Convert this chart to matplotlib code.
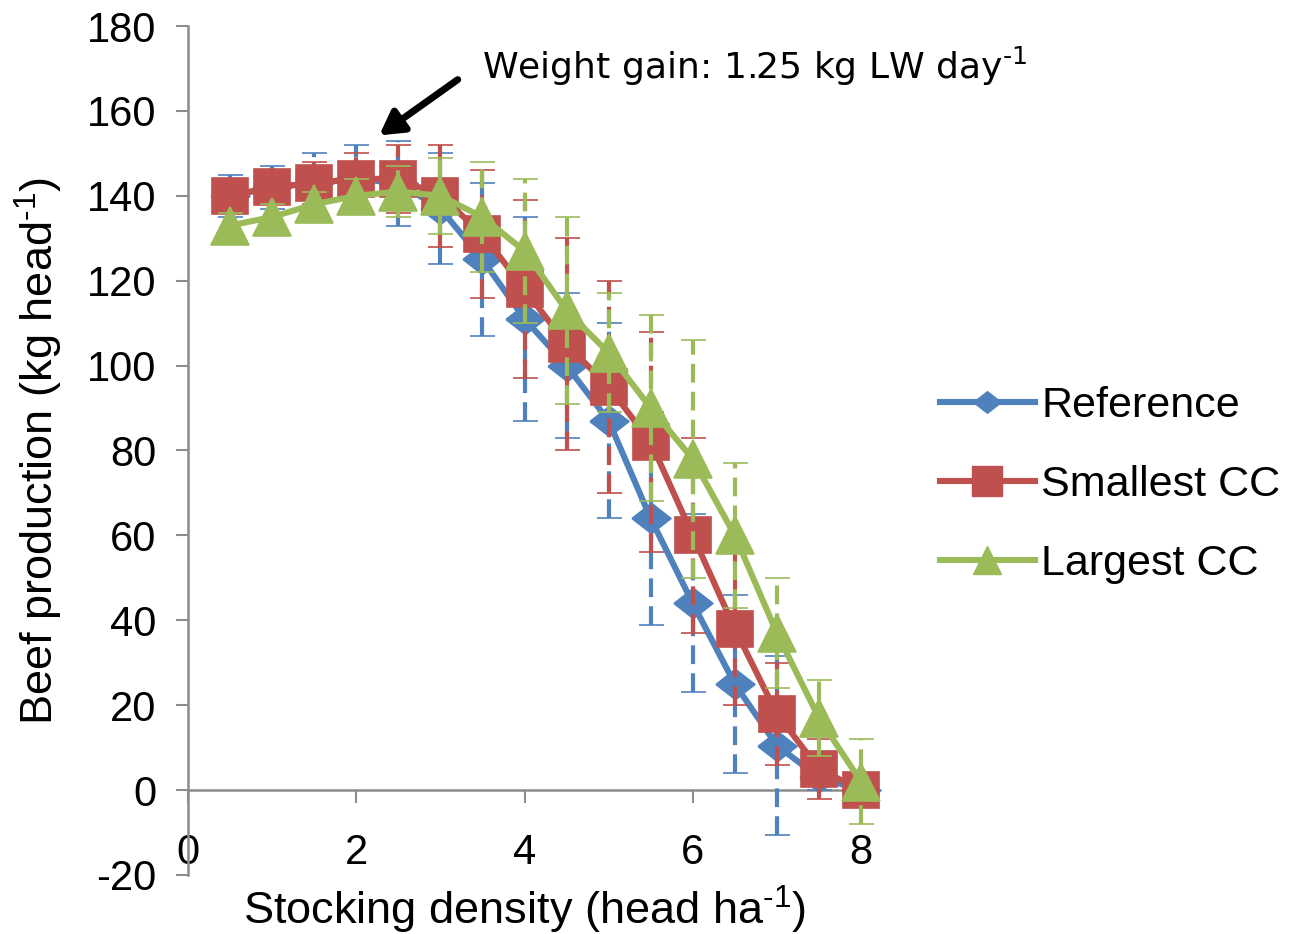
import matplotlib
matplotlib.use("Agg")
import matplotlib.pyplot as plt
from matplotlib.lines import Line2D
import numpy as np

plt.rcParams['font.family'] = ['Liberation Sans', 'DejaVu Sans']
plt.rcParams['mathtext.fontset'] = 'custom'
plt.rcParams['mathtext.rm'] = 'Liberation Sans'
plt.rcParams['mathtext.it'] = 'Liberation Sans:italic'
plt.rcParams['mathtext.bf'] = 'Liberation Sans:bold'
plt.rcParams['axes.unicode_minus'] = False

# ---- data ----
density = [0.5, 1, 1.5, 2, 2.5, 3, 3.5, 4, 4.5, 5, 5.5, 6, 6.5, 7, 7.5, 8]
reference = [140, 142, 143, 144, 143, 137, 125, 111, 100, 87, 64, 44, 25, 10.5, 3, 0]
reference_err = [5, 5, 7, 8, 10, 13, 18, 24, 17, 23, 25, 21, 21, 21, 3, 0]
smallest_cc = [140, 142, 143, 144, 144, 140, 131, 118, 105, 95, 82, 60, 38, 18, 5, 0]
smallest_cc_err = [4, 4, 5, 6, 8, 12, 15, 21, 25, 25, 26, 23, 18, 12, 7, 0]
largest_cc = [133, 135, 138, 140, 141, 140, 135, 127, 113, 103, 90, 78, 60, 37, 17, 2]
largest_cc_err = [3, 3, 3, 4, 6, 9, 13, 17, 22, 14, 22, 28, 17, 13, 9, 10]

series_names = ["Reference", "Smallest CC", "Largest CC"]
x_ticks = [0, 2, 4, 6, 8]
y_ticks = [-20, 0, 20, 40, 60, 80, 100, 120, 140, 160, 180]

colors = ["#4F81BD", "#C0504D", "#9BBB59"]
diamond = [(-1, 0), (0, 0.78), (1, 0), (0, -0.78), (-1, 0)]
markers = [diamond, "s", "^"]
msizes = [28, 26, 28]
leg_msizes = [20, 21, 20]

fig = plt.figure(figsize=(13.03, 9.34), dpi=100)
ax = fig.add_axes([188/1303, 1-875/934, (861-188)/1303, (875-26)/934])

data = [(reference, reference_err), (smallest_cc, smallest_cc_err), (largest_cc, largest_cc_err)]
for i, (vals, errs) in enumerate(data):
    line, caps, bars = ax.errorbar(density, vals, yerr=errs, color=colors[i], lw=4.4,
                                   marker=markers[i], ms=msizes[i], mec=colors[i], mew=1.2,
                                   ecolor=colors[i], elinewidth=3.0, capsize=9, capthick=3.5,
                                   zorder=3 + i, clip_on=False)
    for b in bars:
        b.set_linestyle((0, (4.5, 2.2)))
        b.set_clip_on(False)
    for c in caps:
        c.set_clip_on(False)

ax.set_xlim(0, 8)
ax.set_ylim(-20, 180)
ax.set_xticks(x_ticks)
ax.set_yticks(y_ticks)

for s in ["top", "right"]:
    ax.spines[s].set_visible(False)
ax.spines["bottom"].set_position(("data", 0))
ax.spines["bottom"].set_color("#8C8C8C")
ax.spines["left"].set_color("#8C8C8C")
ax.spines["bottom"].set_linewidth(1.8)
ax.spines["left"].set_linewidth(1.8)

ax.tick_params(axis="y", direction="out", length=9, width=1.5, color="#8C8C8C",
               labelsize=30, pad=14)
ax.tick_params(axis="x", direction="out", length=9, width=1.5, color="#8C8C8C",
               labelsize=30, pad=22)

ax.set_ylabel(r"Beef production (kg head$^{\text{-1}}$)", fontsize=32.5)
ax.yaxis.set_label_coords(-0.183, 0.50)
ax.set_xlabel(r"Stocking density (head ha$^{\text{-1}}$)", fontsize=32.5)
ax.xaxis.set_label_coords(0.50, -0.011)

handles = [Line2D([0], [0], color=colors[i], lw=4.4, marker=markers[i], ms=leg_msizes[i],
                  mec=colors[i]) for i in range(3)]
leg = fig.legend(handles, series_names, loc="center left",
                 bbox_to_anchor=(940/1303, 1-485/934), frameon=False, fontsize=31,
                 handlelength=2.2, handletextpad=0.15, labelspacing=0.9, borderpad=0,
                 borderaxespad=0)

fig.text(482/1303, 1-66/934, r"Weight gain: 1.25 kg LW day$^{\text{-1}}$", fontsize=26,
         family="DejaVu Sans", math_fontfamily="dejavusans", va="center", ha="left")
fig.add_artist(matplotlib.patches.FancyArrowPatch(
    (460/1303, 1-78/934), (377/1303, 1-137/934), transform=fig.transFigure,
    arrowstyle="-|>,head_length=14,head_width=8", lw=5, color="black", mutation_scale=1))

fig.savefig("out.png", dpi=100)
